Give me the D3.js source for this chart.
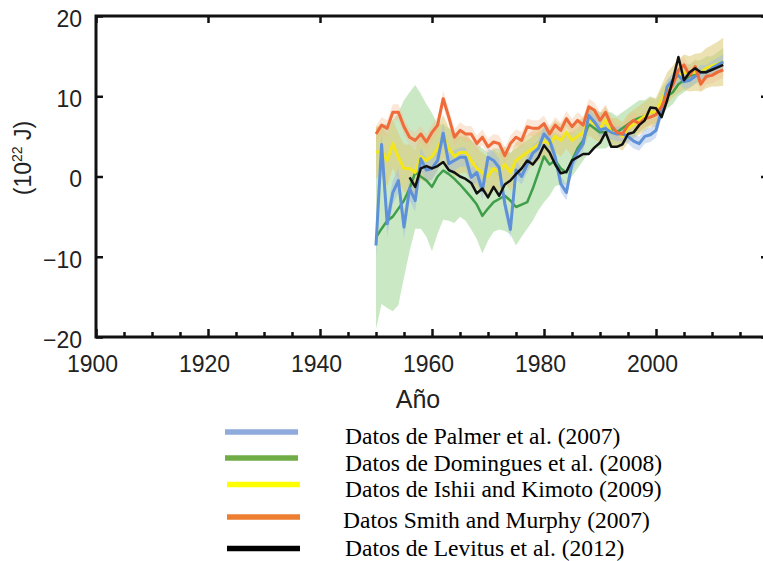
<!DOCTYPE html>
<html>
<head>
<meta charset="utf-8">
<script src="https://cdn.jsdelivr.net/npm/d3@7"></script>
<style>
  body { margin: 0; background: #fff; }
  svg { display: block; }
  .tick text { font-family: "Liberation Sans", Arial, sans-serif; fill: #222; }
</style>
</head>
<body>
<svg id="chart" width="763" height="561"></svg>
<script>
// years 1950..2012 for the four long series, Levitus starts 1956
const years = d3.range(1950, 2013);
const levitusYears = d3.range(1956, 2013);

const xTickLabels = ["1900", "1920", "1940", "1960", "1980", "2000"];
const yTickLabels = ["-20", "-10", "0", "10", "20"];

// Palmer et al. (2007)
const palmer = [
  -8.6, 4.0, -5.9, -2.0, -0.5, -6.3, -1.5, -3.0, 2.2, 0.8,
  1.0, 2.0, 5.4, 1.6, 2.0, 2.4, 2.4, -0.1, 0.5, -1.75,
  2.4, 2.0, 1.1, -3.4, -6.6, 0.8, 0.0, 1.5, 2.9, 3.5,
  5.3, 4.5, 2.4, -0.9, -2.0, 1.6, 3.0, 4.1, 7.6, 6.8,
  5.8, 6.0, 5.5, 5.3, 5.3, 5.0, 4.4, 4.1, 5.0, 5.2,
  5.75, 8.25, 11.2, 12.0, 12.6, 11.8, 12.0, 12.5, 13.0, 13.0,
  13.5, 13.9, 14.3
];
const palmerErr = [
  1.6, 1.6, 1.6, 1.5, 1.5, 1.5, 1.5, 1.4, 1.4, 1.4,
  1.4, 1.3, 1.3, 1.3, 1.3, 1.2, 1.2, 1.2, 1.2, 1.2,
  1.1, 1.1, 1.1, 1.1, 1.1, 1.1, 1.0, 1.0, 1.0, 1.0,
  1.0, 1.0, 1.0, 1.0, 1.0, 0.9, 0.9, 0.9, 0.9, 0.9,
  0.9, 0.9, 0.9, 0.9, 0.9, 0.9, 0.9, 0.9, 0.9, 0.9,
  0.9, 0.9, 0.9, 0.9, 0.9, 0.9, 0.9, 0.9, 0.9, 0.9,
  0.9, 0.9, 0.9
];

// Domingues et al. (2008)
const domingues = [
  -7.6, -6.5, -5.5, -5.0, -4.0, -3.0, -1.5, 0.5, 0.0, -0.5,
  -1.3, 0.0, 0.75, 0.3, -0.3, -1.0, -1.8, -2.6, -3.5, -4.9,
  -4.0, -3.2, -2.8, -2.4, -3.0, -3.8, -3.5, -3.2, -1.5, 0.5,
  2.5, 1.5, 2.0, 1.0, 0.5, 2.0, 3.5, 4.5, 6.5, 6.0,
  5.5, 5.5, 6.0, 5.5, 6.0, 6.5, 7.0, 7.3, 7.5, 8.0,
  8.0, 9.0, 10.0, 10.5, 11.5, 12.0, 12.5, 12.8, 13.0, 13.3,
  13.6, 14.0, 14.3
];
const dominguesLow = [
  -19, -15.9, -16.4, -16.8, -16.0, -12.6, -9.3, -6.5, -6.5, -7.5,
  -9.3, -7.1, -5.4, -5.5, -5.8, -5.0, -5.5, -6.6, -7.8, -9.6,
  -8.0, -6.9, -6.6, -6.8, -7.2, -8.6, -7.5, -6.5, -5.5, -4.2,
  -3.2, -2.4, -1.2, -1.0, -1.0, 0.0, 1.0, 2.0, 3.0, 3.5,
  3.5, 3.5, 4.0, 4.0, 4.0, 4.5, 5.0, 5.5, 6.0, 6.5,
  6.5, 7.5, 8.5, 9.0, 10.0, 10.5, 11.0, 11.5, 11.8, 12.0,
  12.5, 12.8, 13.0
];
const dominguesHigh = [
  6.0, 6.5, 6.5, 7.0, 8.0, 9.5, 10.5, 11.4, 10.3, 9.0,
  7.9, 6.5, 6.5, 6.0, 5.5, 5.0, 5.0, 4.5, 4.0, 3.5,
  3.0, 3.5, 3.5, 3.0, 3.0, 3.5, 4.0, 4.5, 5.0, 5.5,
  6.0, 5.5, 5.5, 5.0, 5.5, 5.5, 6.0, 7.0, 8.5, 8.5,
  8.0, 8.0, 8.0, 7.5, 8.0, 8.5, 9.0, 9.5, 9.5, 10.0,
  9.5, 11.0, 12.0, 12.5, 13.5, 14.0, 14.0, 14.5, 14.5, 15.0,
  15.0, 15.5, 16.0
];

// Ishii and Kimoto (2009)
const ishii = [
  3.0, 3.2, 2.0, 4.1, 2.4, 1.0, 1.0, 0.5, 2.5, 2.0,
  2.5, 3.5, 5.0, 3.5, 2.5, 3.0, 3.0, 2.0, 1.0, 0.5,
  0.0, 1.0, 0.5, 1.5, 0.5, 2.0, 2.5, 3.0, 3.5, 4.0,
  4.5, 4.0, 5.0, 4.5, 5.5, 4.5, 5.0, 5.5, 7.0, 6.5,
  6.0, 7.0, 5.5, 5.5, 5.0, 6.0, 6.5, 7.0, 7.5, 8.0,
  8.0, 9.5, 11.0, 11.8, 12.5, 13.0, 12.8, 13.0, 13.0, 13.5,
  13.8, 14.0, 14.3
];
const ishiiErr = [
  3.2, 3.2, 3.2, 3.0, 3.0, 3.0, 3.0, 2.8, 2.8, 2.8,
  2.8, 2.7, 2.7, 2.6, 2.6, 2.6, 2.5, 2.5, 2.5, 2.5,
  2.4, 2.4, 2.4, 2.3, 2.3, 2.3, 2.2, 2.2, 2.2, 2.1,
  2.1, 2.1, 2.0, 2.0, 2.0, 2.0, 1.9, 1.9, 1.9, 1.9,
  1.8, 1.8, 1.8, 1.8, 1.8, 1.8, 1.8, 1.8, 1.8, 1.8,
  1.8, 1.9, 2.0, 2.0, 2.1, 2.2, 2.2, 2.3, 2.4, 2.5,
  2.6, 2.8, 3.0
];

// Smith and Murphy (2007)
const smith = [
  5.3, 6.4, 6.0, 8.0, 8.0, 6.2, 4.9, 4.5, 5.3, 4.3,
  5.5, 6.4, 9.7, 7.4, 4.9, 5.75, 5.3, 5.3, 4.1, 4.9,
  3.7, 4.3, 4.1, 2.6, 4.1, 4.9, 4.5, 6.2, 6.0, 6.0,
  6.6, 5.3, 6.4, 5.75, 7.2, 6.2, 7.0, 6.4, 8.7, 8.25,
  7.0, 8.0, 6.4, 5.5, 5.3, 6.4, 7.0, 6.6, 7.2, 7.4,
  7.7, 8.7, 10.3, 11.4, 13.25, 13.9, 12.6, 13.7, 11.5, 12.5,
  12.6, 13.0, 13.3
];
const smithErr = 1.0;

// Levitus et al. (2012), 1956..2012
const levitus = [
  -0.1, -1.3, 1.0, 1.3,
  1.0, 1.3, 1.8, 0.8, 0.5, 0.0, -0.3, -0.8, -2.1, -1.5,
  -2.6, -1.3, -2.4, -1.0, -0.5, 0.3, 1.0, 2.0, 1.5, 2.4,
  3.9, 3.0, 1.5, 0.4, 0.6, 2.0, 2.4, 2.8, 2.8, 3.6,
  4.2, 5.5, 3.7, 3.7, 4.0, 5.3, 5.5, 6.4, 7.0, 8.6,
  8.5, 7.4, 9.5, 12.0, 14.9, 12.0, 13.0, 13.5, 13.0, 13.0,
  13.3, 13.6, 13.9
];

const legendLabels = [
  "Datos de Palmer et al. (2007)",
  "Datos de Domingues et al. (2008)",
  "Datos de Ishii and Kimoto (2009)",
  "Datos Smith and Murphy (2007)",
  "Datos de Levitus et al. (2012)"
];
const legendColors = ["#8faadc", "#70ad47", "#ffff00", "#ed7d31", "#000000"];

const svg = d3.select("#chart");

const x = d3.scaleLinear().domain([1900, 2020]).range([96, 768]);
const y = d3.scaleLinear().domain([-20, 20]).range([337, 16]);

const xMajor = xTickLabels.map(Number);
const xMinor = d3.range(1905, 2020, 5).filter(v => !xMajor.includes(v));
const yMajor = yTickLabels.map(Number);

const rows = (vals, err) => years.map((yr, i) => ({
  year: yr,
  v: vals[i],
  e: err == null ? 0 : (Array.isArray(err) ? err[i] : err)
}));

// uncertainty bands
const plot = svg.append("g");

const greenBand = years.map((yr, i) => ({ year: yr, lo: dominguesLow[i], hi: dominguesHigh[i] }));
plot.append("path")
  .datum(greenBand)
  .attr("fill", "#a9d89c")
  .attr("fill-opacity", 0.6)
  .attr("d", d3.area().x(d => x(d.year)).y0(d => y(d.lo)).y1(d => y(d.hi)));

const errArea = d3.area()
  .x(d => x(d.year))
  .y0(d => y(d.v - d.e))
  .y1(d => y(d.v + d.e));

plot.append("path")
  .datum(rows(ishii, ishiiErr))
  .attr("fill", "#dcc873")
  .attr("fill-opacity", 0.55)
  .attr("d", errArea);

plot.append("path")
  .datum(rows(smith, smithErr))
  .attr("fill", "#f4b98f")
  .attr("fill-opacity", 0.35)
  .attr("d", errArea);

plot.append("path")
  .datum(rows(palmer, palmerErr))
  .attr("fill", "#9dbbe6")
  .attr("fill-opacity", 0.45)
  .attr("d", errArea);

// series lines
const line = d3.line().x(d => x(d.year)).y(d => y(d.v));

const series = [
  { vals: rows(domingues), color: "#3f9e4a", w: 2.5 },
  { vals: rows(ishii), color: "#f5e61a", w: 3 },
  { vals: rows(palmer), color: "#5f91d9", w: 3 },
  { vals: rows(smith), color: "#f06b3a", w: 3 },
  { vals: levitusYears.map((yr, i) => ({ year: yr, v: levitus[i] })), color: "#111111", w: 2.5 }
];

plot.selectAll(".line")
  .data(series)
  .join("path")
  .attr("class", "line")
  .attr("fill", "none")
  .attr("stroke", d => d.color)
  .attr("stroke-width", d => d.w)
  .attr("stroke-linejoin", "round")
  .attr("d", d => line(d.vals));

// axes (ticks point inward)
const bottomMajor = svg.append("g")
  .attr("transform", "translate(0,337)")
  .call(d3.axisBottom(x).tickValues(xMajor).tickSize(-8).tickSizeOuter(0).tickPadding(19).tickFormat(d3.format("d")));
bottomMajor.selectAll("text").attr("font-size", 23).attr("dx", -4);

svg.append("g")
  .attr("transform", "translate(0,337)")
  .call(d3.axisBottom(x).tickValues(xMinor).tickSize(-5).tickSizeOuter(0).tickFormat(""));

svg.append("g")
  .attr("transform", "translate(0,16)")
  .call(d3.axisTop(x).tickValues(xMajor).tickSize(-7).tickSizeOuter(0).tickFormat(""));

const leftAxis = svg.append("g")
  .attr("transform", "translate(96,0)")
  .call(d3.axisLeft(y).tickValues(yMajor).tickSize(-7).tickSizeOuter(0).tickPadding(14)
    .tickFormat(d => d < 0 ? "\u2212" + Math.abs(d) : d));
leftAxis.selectAll("text").attr("font-size", 23).attr("dy", "0.45em");

svg.append("g")
  .attr("transform", "translate(768,0)")
  .call(d3.axisRight(y).tickValues(yMajor).tickSize(-7).tickSizeOuter(0).tickFormat(""));

svg.selectAll(".domain").remove();
svg.selectAll(".tick line").attr("stroke", "#111").attr("stroke-width", 2.5);

// frame
svg.append("rect")
  .attr("x", x(1900)).attr("y", y(20))
  .attr("width", x(2020) - x(1900)).attr("height", y(-20) - y(20))
  .attr("fill", "none")
  .attr("stroke", "#111")
  .attr("stroke-width", 3);

// axis titles
svg.append("text")
  .attr("x", 418).attr("y", 408)
  .attr("text-anchor", "middle")
  .attr("font-family", "Liberation Sans, Arial, sans-serif")
  .attr("font-size", 25)
  .attr("fill", "#222")
  .text("Año");

const yTitle = svg.append("text")
  .attr("transform", "translate(31,158) rotate(-90)")
  .attr("text-anchor", "middle")
  .attr("font-family", "Liberation Sans, Arial, sans-serif")
  .attr("font-size", 23)
  .attr("fill", "#222");
yTitle.append("tspan").text("(10");
yTitle.append("tspan").attr("font-size", 14).attr("dy", -9).text("22");
yTitle.append("tspan").attr("dy", 9).text(" J)");

// legend
const legendY = [432, 458, 484.5, 517, 548.5];
const legendX0 = [225, 225, 227, 227, 227];
const legendBase = [444, 471, 497, 527.5, 555.5];
const legendTextX = [345, 345, 345, 343, 345];

const legend = svg.append("g");
legend.selectAll("line")
  .data(legendLabels)
  .join("line")
  .attr("x1", (d, i) => legendX0[i])
  .attr("x2", (d, i) => legendX0[i] + 73)
  .attr("y1", (d, i) => legendY[i])
  .attr("y2", (d, i) => legendY[i])
  .attr("stroke", (d, i) => legendColors[i])
  .attr("stroke-width", 5.5);

legend.selectAll("text")
  .data(legendLabels)
  .join("text")
  .attr("x", (d, i) => legendTextX[i])
  .attr("y", (d, i) => legendBase[i])
  .attr("font-family", "Liberation Serif, Times New Roman, serif")
  .attr("font-size", 23.5)
  .attr("fill", "#000")
  .text(d => d);
</script>
</body>
</html>
